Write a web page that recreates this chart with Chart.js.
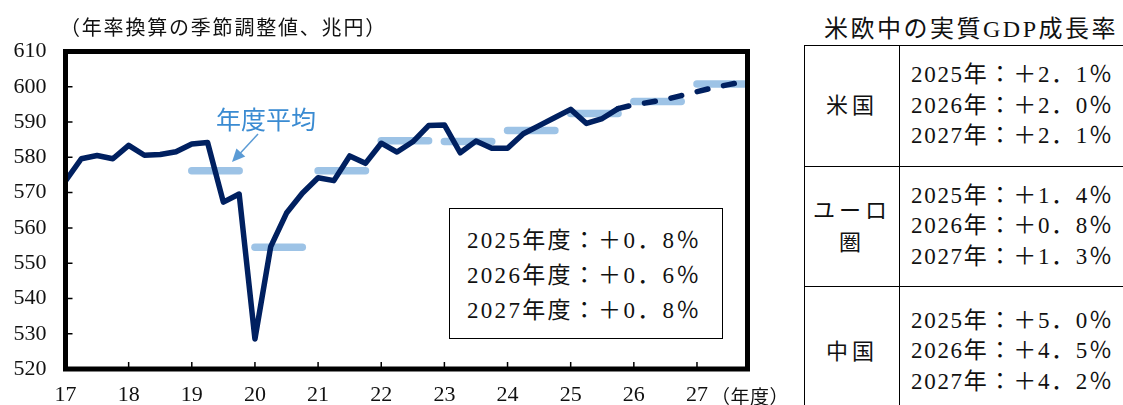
<!DOCTYPE html>
<html lang="ja">
<head>
  <meta charset="UTF-8">
  <title>実質GDPの見通し</title>
  <script src="https://cdn.jsdelivr.net/npm/chart.js"></script>
  <style>
    body {
      margin: 0;
      width: 1123px;
      height: 405px;
      overflow: hidden;
      background: #fff;
      font-family: "Liberation Serif", "Noto Sans CJK JP", serif;
      color: #111;
    }
    .wrap { position: relative; width: 1123px; height: 405px; overflow: hidden; }
    #gdpChart { position: absolute; left: 0; top: 0; }
    .unit {
      position: absolute; left: 60px; top: 15px;
      font-size: 20px; letter-spacing: 1.8px; line-height: 26px;
      white-space: nowrap;
    }
    .fy-unit {
      position: absolute; left: 711px; top: 382px;
      font-size: 19px; letter-spacing: 0.5px; white-space: nowrap;
    }
    .avg-label {
      position: absolute; left: 216px; top: 100px;
      font-size: 25px; color: #3a8bd2; white-space: nowrap;
    }
    .fy-box {
      position: absolute; left: 449px; top: 208px;
      width: 272px; height: 129px;
      border: 1.5px solid #000; background: #fff;
      box-sizing: content-box;
    }
    .fy-box div {
      position: absolute; left: 17px;
      font-size: 23px; letter-spacing: 2.3px; line-height: 30px; white-space: nowrap;
    }
    .side-title {
      position: absolute; left: 824px; top: 9px;
      font-size: 24px; letter-spacing: 2.5px; white-space: nowrap;
    }
    table.growth {
      position: absolute; left: 804px; top: 45px;
      width: 360px; table-layout: fixed;
      border-collapse: collapse;
    }
    table.growth td {
      border: 1.5px solid #000; padding: 0; vertical-align: middle;
    }
    td.region {
      text-align: center; white-space: nowrap;
      font-size: 22px; letter-spacing: 4px; line-height: 32px;
    }
    td.rates {
      padding-left: 11px !important;
      font-size: 23px; letter-spacing: 1.7px; line-height: 30.5px; white-space: nowrap;
    }
  </style>
</head>
<body>
<div class="wrap">
  <canvas id="gdpChart" width="780" height="405"></canvas>
  <div class="unit">（年率換算の季節調整値、兆円）</div>
  <div class="avg-label">年度平均</div>
  <div class="fy-unit">（年度）</div>
  <div class="fy-box" id="fyBox"></div>

  <div class="side-title">米欧中の実質GDP成長率</div>
  <table class="growth" id="growthTable">
    <colgroup><col style="width:95px"><col style="width:265px"></colgroup>
  </table>
</div>

<script>
// fiscal year ticks on the x axis (one tick per 4 quarters)
const fiscalYearLabels = ['17', '18', '19', '20', '21', '22', '23', '24', '25', '26', '27'];
const yTicks = [520, 530, 540, 550, 560, 570, 580, 590, 600, 610];

// real GDP, quarterly, FY2017 Q1 onward (兆円)
const actualGdp = [
  573.3, 579.6, 580.5, 579.6,
  583.4, 580.6, 580.8, 581.6,
  583.8, 584.2, 567.3, 569.6,
  528.5, 554.7, 564.2, 569.8,
  574.2, 573.4, 580.4, 578.3,
  584.0, 581.5, 584.4, 589.0,
  589.2, 581.3, 584.6, 582.6,
  582.6, 586.7, 589.0, 591.3,
  593.6, 589.6, 591.0, 593.8
];
// forecast path, starting from the last actual quarter
const forecastGdp = [593.8, 594.9, 595.6, 596.4, 597.5, 598.6, 599.7, 600.6, 601.5];

// fiscal year averages (light blue bars)
const averageYears = ['19', '20', '21', '22', '23', '24', '25', '26', '27'];
const averageGdp = [576.2, 554.5, 576.2, 584.7, 584.5, 587.6, 592.4, 595.8, 600.8];

const fyGrowthLabels = ['2025年度', '2026年度', '2027年度'];
const fyGrowthValues = ['＋0．8％', '＋0．6％', '＋0．8％'];

const regions = ['米国', 'ユーロ<br>圏', '中国'];
const regionYears = ['2025年', '2026年', '2027年'];
const regionGrowth = [
  ['＋2．1％', '＋2．0％', '＋2．1％'],
  ['＋1．4％', '＋0．8％', '＋1．3％'],
  ['＋5．0％', '＋4．5％', '＋4．2％']
];

// text box inside the chart
const box = document.getElementById('fyBox');
fyGrowthLabels.forEach((lab, i) => {
  const d = document.createElement('div');
  d.style.top = (17 + i * 35) + 'px';
  d.textContent = lab + '：' + fyGrowthValues[i];
  box.appendChild(d);
});

// right-hand table
const table = document.getElementById('growthTable');
const rowHeights = [121, 120, 130];
regions.forEach((r, i) => {
  const tr = document.createElement('tr');
  tr.style.height = rowHeights[i] + 'px';
  const rates = regionYears.map((y, j) => y + '：' + regionGrowth[i][j]).join('<br>');
  tr.innerHTML = `<td class="region">${r}</td><td class="rates">${rates}</td>`;
  table.appendChild(tr);
});

const lastActual = actualGdp.length - 1;
const datasets = [
  {
    data: actualGdp.map((v, i) => ({ x: i, y: v })),
    borderColor: '#002060', borderWidth: 5.5,
    borderJoinStyle: 'round', borderCapStyle: 'round',
    pointRadius: 0, tension: 0, order: 0
  },
  {
    data: forecastGdp.map((v, i) => ({ x: lastActual + i, y: v })),
    borderColor: '#002060', borderWidth: 5.5,
    borderDash: [11, 16], borderCapStyle: 'round',
    pointRadius: 0, tension: 0, order: 1
  }
];
averageYears.forEach((fy, k) => {
  const q0 = fiscalYearLabels.indexOf(fy) * 4;
  datasets.push({
    data: [{ x: q0, y: averageGdp[k] }, { x: q0 + 3, y: averageGdp[k] }],
    borderColor: '#9dc3e6', borderWidth: 7.5, borderCapStyle: 'round',
    pointRadius: 0, order: 5
  });
});

const framePlugin = {
  id: 'frame',
  afterDraw(chart) {
    const { ctx, chartArea: a, scales } = chart;
    ctx.save();
    ctx.strokeStyle = '#000';
    // inward tick marks
    ctx.lineWidth = 1.5;
    ctx.beginPath();
    yTicks.forEach(v => {
      const y = scales.y.getPixelForValue(v);
      ctx.moveTo(a.left, y); ctx.lineTo(a.left + 7, y);
    });
    fiscalYearLabels.forEach((_, i) => {
      const x = scales.x.getPixelForValue(i * 4);
      ctx.moveTo(x, a.bottom); ctx.lineTo(x, a.bottom - 7);
    });
    ctx.stroke();
    // thick frame
    ctx.lineWidth = 5;
    ctx.lineJoin = 'miter';
    ctx.strokeRect(a.left, a.top, a.right - a.left, a.bottom - a.top);
    // arrow for the 年度平均 label
    ctx.strokeStyle = '#5b9bd5';
    ctx.fillStyle = '#5b9bd5';
    ctx.lineWidth = 1.5;
    const x1 = 258, y1 = 134, x2 = 232, y2 = 162;
    const ang = Math.atan2(y2 - y1, x2 - x1);
    ctx.beginPath();
    ctx.moveTo(x1, y1);
    ctx.lineTo(x2 - 8 * Math.cos(ang), y2 - 8 * Math.sin(ang));
    ctx.stroke();
    ctx.beginPath();
    ctx.moveTo(x2, y2);
    ctx.lineTo(x2 - 13 * Math.cos(ang) + 6 * Math.sin(ang), y2 - 13 * Math.sin(ang) - 6 * Math.cos(ang));
    ctx.lineTo(x2 - 13 * Math.cos(ang) - 6 * Math.sin(ang), y2 - 13 * Math.sin(ang) + 6 * Math.cos(ang));
    ctx.closePath();
    ctx.fill();
    ctx.restore();
  }
};

const tickFont = { family: "'Liberation Serif', 'DejaVu Serif', serif", size: 22 };

new Chart(document.getElementById('gdpChart'), {
  type: 'line',
  data: { datasets },
  options: {
    responsive: false,
    animation: false,
    events: [],
    layout: { padding: { top: 51.5, right: 32.5, left: 0, bottom: 0 } },
    plugins: { legend: { display: false }, tooltip: { enabled: false } },
    scales: {
      x: {
        type: 'linear', min: 0, max: 43.2,
        grid: { display: false, drawTicks: false }, border: { display: false },
        afterBuildTicks: s => { s.ticks = fiscalYearLabels.map((_, i) => ({ value: i * 4 })); },
        afterFit: s => { s.height = 36; },
        ticks: {
          autoSkip: false, maxRotation: 0, padding: 13,
          color: '#111', font: tickFont,
          callback: v => fiscalYearLabels[v / 4]
        }
      },
      y: {
        min: 520, max: 610,
        grid: { display: false, drawTicks: false }, border: { display: false },
        afterBuildTicks: s => { s.ticks = yTicks.map(v => ({ value: v })); },
        afterFit: s => { s.width = 65.5; },
        ticks: {
          padding: 19, color: '#111', font: tickFont
        }
      }
    }
  },
  plugins: [framePlugin]
});
</script>
</body>
</html>
